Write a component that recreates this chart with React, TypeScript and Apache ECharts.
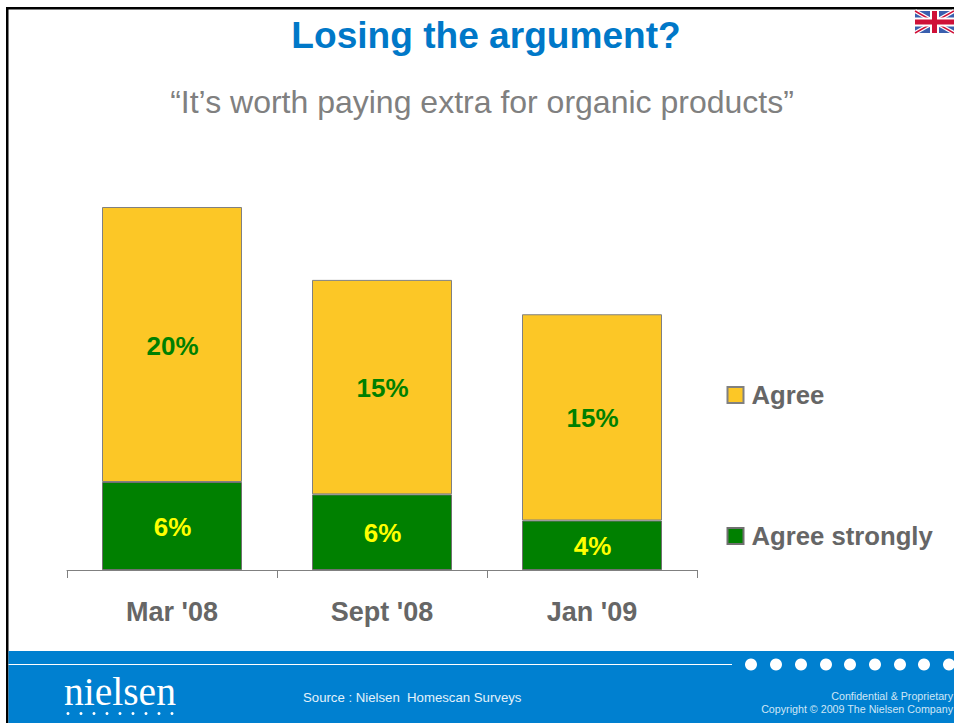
import React, { useEffect, useRef } from "react";
import * as echarts from "echarts";

const categories = ["Mar '08", "Sept '08", "Jan '09"];
const agreeStrongly = [6.4, 5.5, 3.6];
const agree = [20, 15.6, 15];
const agreeStronglyLabels = ["6%", "6%", "4%"];
const agreeLabels = ["20%", "15%", "15%"];
const TEXT_GREY = "#666666";
const BLUE = "#0080D0";
const FONT = "'Liberation Sans', Arial, sans-serif";

const footerDots = [751, 776, 801, 826, 850, 875, 900, 924, 949];
const logoDots = [68, 81, 94, 107, 120, 133, 146, 159, 172];

export default function App() {
  const ref = useRef<HTMLDivElement>(null);
  useEffect(() => {
    const chart = echarts.init(ref.current!, null, { renderer: "svg" });
    const flag = { x: 915, y: 11, w: 39, h: 22 };
    chart.setOption({
      animation: false,
      backgroundColor: "#ffffff",
      textStyle: { fontFamily: FONT },
      title: [
        {
          text: "Losing the argument?",
          left: 481,
          top: 11,
          textAlign: "center",
          textStyle: { fontFamily: FONT, fontSize: 37.1, fontWeight: "bold", color: "#0078C8" },
        },
        {
          text: "“It’s worth paying extra for organic products”",
          left: 477,
          top: 81,
          textAlign: "center",
          textStyle: { fontFamily: FONT, fontSize: 32, fontWeight: "normal", color: "#808080" },
        },
      ],
      grid: { left: 67, top: 102.5, width: 630, height: 467.5 },
      xAxis: {
        type: "category",
        data: categories,
        axisLine: { lineStyle: { color: "#808080", width: 1 } },
        axisTick: { show: true, length: 8, lineStyle: { color: "#808080" } },
        axisLabel: { fontFamily: FONT, fontSize: 27, fontWeight: "bold", color: TEXT_GREY, margin: 28 },
      },
      yAxis: { type: "value", min: 0, max: 34, show: false, splitLine: { show: false } },
      legend: {
        orient: "vertical",
        left: 721.5,
        top: 377,
        itemWidth: 16,
        itemHeight: 16,
        itemGap: 115,
        icon: "rect",
        data: ["Agree", "Agree strongly"],
        textStyle: { fontFamily: FONT, fontSize: 25.7, fontWeight: "bold", color: TEXT_GREY, padding: [0, 0, 0, 3] },
      },
      series: [
        {
          name: "Agree strongly",
          type: "bar",
          stack: "total",
          barWidth: 140,
          data: agreeStrongly,
          itemStyle: { color: "#008000", borderColor: "#707070", borderWidth: 1 },
          label: {
            show: true,
            position: "inside",
            offset: [0.5, 1],
            formatter: (p: any) => agreeStronglyLabels[p.dataIndex],
            fontFamily: FONT,
            fontSize: 26,
            fontWeight: "bold",
            color: "#FFFF00",
          },
        },
        {
          name: "Agree",
          type: "bar",
          stack: "total",
          barWidth: 140,
          data: agree,
          itemStyle: { color: "#FCC726", borderColor: "#808080", borderWidth: 1 },
          label: {
            show: true,
            position: "inside",
            offset: [0.5, 1],
            formatter: (p: any) => agreeLabels[p.dataIndex],
            fontFamily: FONT,
            fontSize: 26,
            fontWeight: "bold",
            color: "#008000",
          },
        },
      ],
      graphic: [
        { type: "rect", shape: { x: 6, y: 7, width: 948, height: 2.5 }, style: { fill: "#000" } },
        { type: "rect", shape: { x: 6, y: 7, width: 2.5, height: 716 }, style: { fill: "#000" } },
        { type: "rect", shape: { x: 8.5, y: 651, width: 946, height: 72 }, style: { fill: BLUE } },
        { type: "line", shape: { x1: 8.5, y1: 664.5, x2: 732, y2: 664.5 }, style: { stroke: "#ffffff", lineWidth: 1 } },
        ...footerDots.map((x) => ({ type: "circle", shape: { cx: x, cy: 664.5, r: 6 }, style: { fill: "#ffffff" } })),
        ...logoDots.map((x) => ({ type: "circle", shape: { cx: x, cy: 713.5, r: 1.5 }, style: { fill: "#ffffff" } })),
        {
          type: "text",
          x: 64,
          y: 672,
          style: { text: "nielsen", fill: "#ffffff", font: "39.5px 'Liberation Serif', serif" },
        },
        {
          type: "text",
          x: 303,
          y: 691,
          style: { text: "Source : Nielsen  Homescan Surveys", fill: "#E4F2FB", font: `13.2px ${FONT}` },
        },
        {
          type: "text",
          x: 953,
          y: 690,
          style: { text: "Confidential & Proprietary", fill: "#CFE6F6", font: `10.7px ${FONT}`, textAlign: "right" },
        },
        {
          type: "text",
          x: 953,
          y: 703,
          style: { text: "Copyright © 2009 The Nielsen Company", fill: "#CFE6F6", font: `10.7px ${FONT}`, textAlign: "right" },
        },
        { type: "rect", shape: { x: flag.x, y: flag.y, width: flag.w, height: flag.h }, style: { fill: "#3A5FAE" } },
        { type: "line", shape: { x1: flag.x, y1: flag.y, x2: flag.x + flag.w, y2: flag.y + flag.h }, style: { stroke: "#fff", lineWidth: 4 } },
        { type: "line", shape: { x1: flag.x, y1: flag.y + flag.h, x2: flag.x + flag.w, y2: flag.y }, style: { stroke: "#fff", lineWidth: 4 } },
        { type: "line", shape: { x1: flag.x, y1: flag.y, x2: flag.x + flag.w, y2: flag.y + flag.h }, style: { stroke: "#CF1138", lineWidth: 1.5 } },
        { type: "line", shape: { x1: flag.x, y1: flag.y + flag.h, x2: flag.x + flag.w, y2: flag.y }, style: { stroke: "#CF1138", lineWidth: 1.5 } },
        { type: "rect", shape: { x: flag.x + 15, y: flag.y, width: 9, height: flag.h }, style: { fill: "#fff" } },
        { type: "rect", shape: { x: flag.x, y: flag.y + 6.5, width: flag.w, height: 9 }, style: { fill: "#fff" } },
        { type: "rect", shape: { x: flag.x + 17, y: flag.y, width: 5, height: flag.h }, style: { fill: "#CF1138" } },
        { type: "rect", shape: { x: flag.x, y: flag.y + 8.5, width: flag.w, height: 5 }, style: { fill: "#CF1138" } },
      ],
    });
    return () => chart.dispose();
  }, []);
  return <div ref={ref} style={{ position: "absolute", left: 0, top: 0, width: 954, height: 723 }} />;
}
